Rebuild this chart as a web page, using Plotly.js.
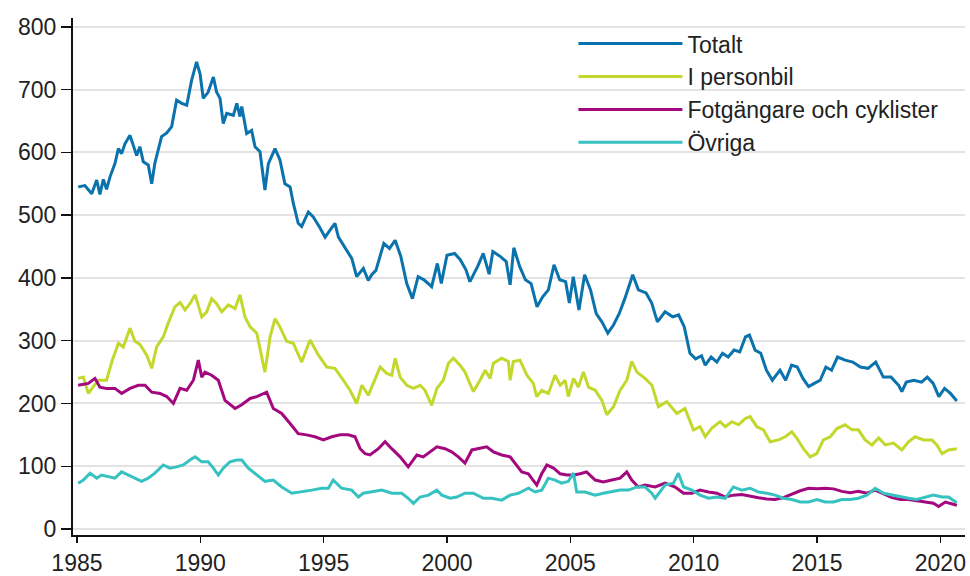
<!DOCTYPE html>
<html>
<head>
<meta charset="utf-8">
<script src="https://cdn.plot.ly/plotly-3.0.1.min.js"></script>
<style>html,body{margin:0;padding:0;background:#fff}#chart{width:970px;height:576px}</style>
</head>
<body>
<div id="chart"></div>
<script>
// ---- Data (x = decimal year) ----
const seriesNames = ["Totalt", "I personbil", "Fotgängare och cyklister", "Övriga"];
const seriesColors = ["#0a72ad", "#c3d82c", "#a3087e", "#36c2c0"];

const totaltX = [1985.05,1985.32,1985.60,1985.80,1985.93,1986.07,1986.20,1986.34,1986.54,1986.68,1986.81,1986.95,1987.15,1987.28,1987.42,1987.55,1987.69,1987.89,1988.03,1988.16,1988.30,1988.43,1988.64,1988.84,1989.04,1989.25,1989.45,1989.65,1989.85,1989.99,1990.12,1990.32,1990.53,1990.66,1990.80,1990.93,1991.07,1991.34,1991.48,1991.61,1991.68,1991.88,1992.08,1992.22,1992.42,1992.62,1992.76,1993.03,1993.23,1993.43,1993.64,1993.77,1993.97,1994.11,1994.38,1994.58,1994.85,1995.06,1995.26,1995.46,1995.60,1995.87,1996.14,1996.34,1996.61,1996.81,1996.95,1997.12,1997.44,1997.67,1997.90,1998.13,1998.37,1998.60,1998.83,1999.07,1999.38,1999.61,1999.77,2000.00,2000.31,2000.54,2000.77,2000.93,2001.24,2001.47,2001.71,2001.86,2002.17,2002.40,2002.56,2002.71,2002.95,2003.18,2003.41,2003.65,2003.88,2004.11,2004.34,2004.57,2004.81,2004.96,2005.12,2005.35,2005.58,2005.82,2006.05,2006.28,2006.52,2006.75,2006.98,2007.21,2007.53,2007.76,2008.07,2008.30,2008.53,2008.84,2009.15,2009.39,2009.62,2009.85,2010.08,2010.32,2010.47,2010.71,2010.94,2011.17,2011.40,2011.64,2011.87,2012.10,2012.26,2012.49,2012.72,2012.95,2013.19,2013.50,2013.73,2013.97,2014.20,2014.43,2014.66,2014.89,2015.13,2015.36,2015.59,2015.83,2016.14,2016.45,2016.76,2017.07,2017.38,2017.69,2018.00,2018.31,2018.44,2018.62,2018.93,2019.24,2019.47,2019.71,2019.94,2020.17,2020.41,2020.67];
const totaltY = [545,547,534,556,533,557,541,561,582,606,598,614,627,611,595,609,585,580,550,583,603,625,631,641,683,678,675,715,744,725,686,696,720,696,686,646,662,659,678,657,673,630,635,609,601,540,582,606,588,550,545,519,487,482,505,497,480,465,476,487,465,447,431,402,415,396,405,412,455,447,460,434,391,367,402,397,386,423,391,436,439,429,413,394,418,439,406,442,434,426,389,448,418,397,391,354,370,381,421,397,394,360,402,349,405,381,343,330,312,325,343,367,405,381,376,360,330,346,338,341,322,280,271,276,261,274,266,280,274,285,282,306,309,285,280,253,237,253,237,261,258,240,227,232,237,258,253,274,269,266,258,256,266,242,242,229,219,234,237,234,242,232,211,224,216,204];

const personbilX = [1985.05,1985.26,1985.46,1985.66,1985.86,1986.07,1986.20,1986.41,1986.68,1986.88,1987.15,1987.35,1987.55,1987.83,1988.03,1988.23,1988.50,1988.70,1988.97,1989.18,1989.38,1989.58,1989.79,1990.06,1990.26,1990.46,1990.66,1990.87,1991.14,1991.41,1991.61,1991.81,1992.02,1992.29,1992.62,1992.83,1993.03,1993.23,1993.50,1993.77,1994.11,1994.45,1994.79,1995.13,1995.46,1995.80,1996.07,1996.34,1996.55,1996.81,1997.02,1997.29,1997.56,1997.76,1997.90,1998.10,1998.37,1998.64,1998.91,1999.11,1999.38,1999.59,1999.85,2000.06,2000.26,2000.53,2000.73,2001.07,2001.34,2001.55,2001.75,2001.88,2002.22,2002.49,2002.56,2002.69,2002.96,2003.24,2003.50,2003.64,2003.84,2004.11,2004.38,2004.59,2004.79,2004.92,2005.13,2005.33,2005.53,2005.74,2006.01,2006.28,2006.48,2006.75,2007.02,2007.29,2007.49,2007.70,2008.03,2008.31,2008.57,2008.91,2009.32,2009.65,2009.99,2010.26,2010.47,2010.74,2011.07,2011.28,2011.55,2011.82,2012.09,2012.29,2012.56,2012.83,2013.10,2013.44,2013.71,2013.98,2014.18,2014.45,2014.72,2014.99,2015.26,2015.54,2015.81,2016.14,2016.42,2016.68,2016.95,2017.23,2017.50,2017.77,2018.10,2018.44,2018.71,2018.98,2019.32,2019.66,2019.86,2020.07,2020.33,2020.67];
const personbilY = [240,242,216,226,237,237,237,266,296,290,320,299,294,277,256,290,306,328,354,361,349,359,373,338,346,367,359,346,357,351,373,338,322,312,250,306,335,322,299,296,266,301,277,258,256,237,221,200,229,213,234,258,248,245,272,242,229,224,229,221,197,224,237,264,272,261,250,219,237,253,240,264,272,267,237,267,269,245,232,211,221,216,245,229,237,211,240,226,250,226,221,205,182,195,221,237,267,250,240,229,195,203,184,192,158,163,147,161,171,163,171,166,176,179,163,158,139,142,147,155,145,128,115,120,142,147,160,166,158,158,142,134,145,134,137,126,139,147,142,142,134,120,126,128];

const fotgangareX = [1985.05,1985.46,1985.73,1985.93,1986.20,1986.54,1986.81,1987.15,1987.49,1987.76,1988.03,1988.37,1988.64,1988.91,1989.18,1989.45,1989.72,1989.92,1990.06,1990.19,1990.46,1990.73,1991.00,1991.41,1991.68,1992.02,1992.29,1992.69,1992.96,1993.30,1993.64,1993.97,1994.31,1994.65,1994.99,1995.33,1995.67,1996.00,1996.27,1996.48,1996.68,1996.88,1997.22,1997.49,1997.76,1998.10,1998.43,1998.78,1999.04,1999.31,1999.59,1999.92,2000.19,2000.46,2000.73,2001.01,2001.27,2001.61,2001.88,2002.22,2002.56,2002.76,2003.03,2003.30,2003.64,2003.84,2004.05,2004.32,2004.59,2004.86,2005.13,2005.40,2005.66,2006.01,2006.34,2006.68,2007.02,2007.29,2007.49,2007.76,2008.03,2008.44,2008.84,2009.25,2009.59,2009.93,2010.26,2010.60,2010.94,2011.28,2011.61,2011.95,2012.29,2012.63,2012.97,2013.30,2013.64,2013.98,2014.32,2014.66,2015.00,2015.33,2015.67,2016.01,2016.35,2016.68,2017.02,2017.36,2017.70,2018.04,2018.38,2018.71,2019.05,2019.39,2019.72,2019.93,2020.20,2020.67];
const fotgangareY = [229,232,240,226,224,224,216,224,229,229,218,216,211,200,224,221,237,269,242,250,245,237,205,192,198,208,211,218,192,184,168,152,150,147,142,147,150,150,147,128,120,118,128,139,128,115,99,118,115,123,131,128,123,115,105,126,128,131,123,118,115,105,91,88,70,88,102,97,88,86,86,88,91,78,75,78,81,91,78,67,70,67,73,67,57,57,62,59,57,51,54,55,52,50,48,47,50,56,61,65,64,65,64,60,58,60,57,62,56,50,47,47,45,43,41,36,43,38];

const ovrigaX = [1985.05,1985.26,1985.53,1985.80,1986.00,1986.27,1986.54,1986.81,1987.08,1987.35,1987.62,1987.89,1988.16,1988.50,1988.77,1989.04,1989.31,1989.58,1989.79,1990.06,1990.32,1990.53,1990.73,1990.93,1991.20,1991.48,1991.68,1991.95,1992.29,1992.62,1992.96,1993.30,1993.71,1994.11,1994.52,1994.92,1995.19,1995.39,1995.73,1996.14,1996.41,1996.61,1996.95,1997.36,1997.76,1998.17,1998.43,1998.64,1998.91,1999.25,1999.59,1999.79,2000.13,2000.40,2000.73,2001.07,2001.48,2001.82,2002.22,2002.56,2002.90,2003.30,2003.57,2003.84,2004.11,2004.38,2004.65,2004.92,2005.13,2005.26,2005.60,2006.01,2006.34,2006.68,2007.02,2007.36,2007.70,2008.03,2008.30,2008.44,2008.84,2009.18,2009.38,2009.59,2009.93,2010.26,2010.60,2010.94,2011.28,2011.61,2011.95,2012.29,2012.63,2012.97,2013.30,2013.64,2013.98,2014.32,2014.66,2015.00,2015.33,2015.67,2016.01,2016.35,2016.68,2017.02,2017.36,2017.70,2018.04,2018.38,2018.71,2019.05,2019.39,2019.72,2020.07,2020.33,2020.67];
const ovrigaY = [73,78,89,81,86,84,81,91,86,81,76,81,89,102,97,99,102,110,115,107,107,97,86,97,107,110,110,97,86,76,78,67,57,59,62,65,65,78,65,62,51,57,59,62,57,57,49,41,51,54,62,54,49,51,57,57,49,49,46,54,57,65,59,62,81,78,73,76,89,59,59,54,57,59,62,62,67,67,57,49,70,73,89,67,62,54,49,51,49,67,62,65,59,57,54,49,47,43,43,47,43,43,47,47,49,54,65,57,54,51,49,47,51,54,51,51,42];

const xTickVals = [1985, 1990, 1995, 2000, 2005, 2010, 2015, 2020];
const yTickVals = [0, 100, 200, 300, 400, 500, 600, 700, 800];

// ---- Build traces ----
const xs = [totaltX, personbilX, fotgangareX, ovrigaX];
const ys = [totaltY, personbilY, fotgangareY, ovrigaY];
const traces = seriesNames.map((name, i) => ({
  type: "scatter",
  mode: "lines",
  name: name,
  x: xs[i],
  y: ys[i],
  line: { color: seriesColors[i], width: 3 },
  hoverinfo: "x+y+name"
}));

const fontFam = "Liberation Sans, Arial, Helvetica, sans-serif";
const layout = {
  width: 970,
  height: 576,
  margin: { l: 73, r: 5, t: 18, b: 41, pad: 0 },
  paper_bgcolor: "#ffffff",
  plot_bgcolor: "#ffffff",
  font: { family: fontFam, size: 23, color: "#222222" },
  showlegend: true,
  legend: {
    x: 0.561, y: 0.992, xanchor: "left", yanchor: "top",
    bgcolor: "rgba(255,255,255,0)",
    borderwidth: 0,
    itemwidth: 104,
    font: { family: fontFam, size: 23, color: "#222222" },
    tracegroupgap: 0
  },
  // white panel behind the legend, hiding the gridlines there (as in the reference)
  shapes: [{
    type: "rect", xref: "paper", yref: "paper",
    x0: 0.5594, x1: 0.992, y0: 0.716, y1: 0.974,
    fillcolor: "#ffffff", line: { width: 0 }, layer: "between"
  }],
  xaxis: {
    range: [1984.84, 2021.0],
    tickvals: xTickVals,
    ticktext: xTickVals.map(String),
    showgrid: false,
    zeroline: false,
    showline: true,
    linecolor: "#111111",
    linewidth: 2,
    ticks: "outside",
    ticklen: 6,
    tickwidth: 1.5,
    tickcolor: "#111111",
    tickfont: { family: fontFam, size: 23, color: "#222222" }
  },
  yaxis: {
    range: [-9.5, 814],
    tickvals: yTickVals,
    showgrid: true,
    gridcolor: "#e3e3e3",
    gridwidth: 2,
    zeroline: false,
    showline: true,
    linecolor: "#111111",
    linewidth: 2,
    ticks: "outside",
    ticklen: 10,
    tickwidth: 1.5,
    tickcolor: "#111111",
    tickfont: { family: fontFam, size: 23, color: "#222222" }
  }
};

Plotly.newPlot("chart", traces, layout, { displayModeBar: false, staticPlot: true });
</script>
</body>
</html>
